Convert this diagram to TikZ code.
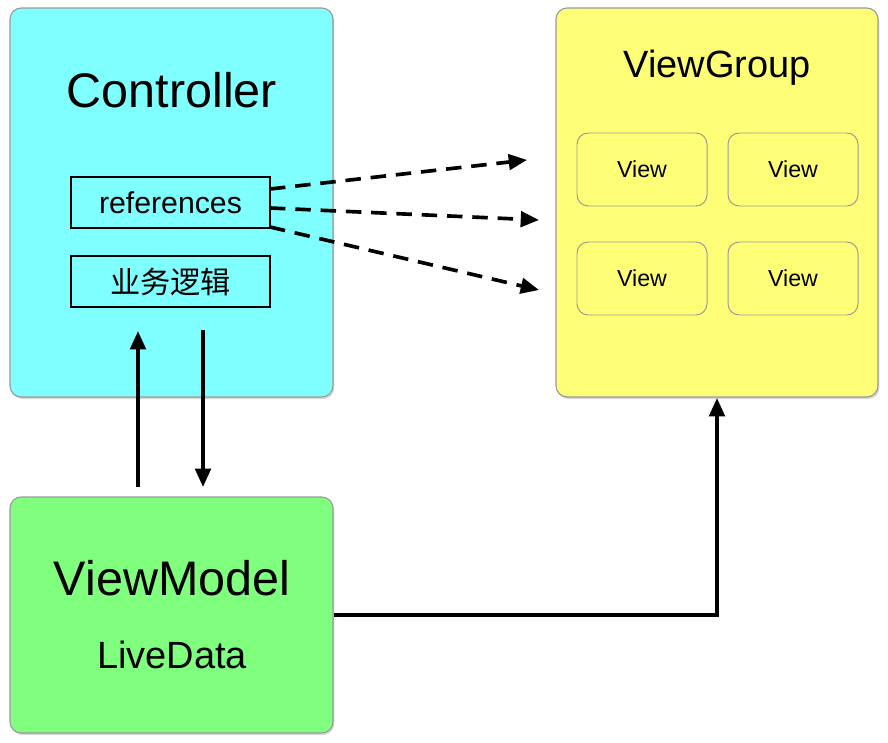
\documentclass[tikz,border=0pt]{standalone}
\usepackage{fontspec}
\setmainfont{Liberation Sans}
\newfontfamily\cjk{Noto Sans CJK SC}
\usetikzlibrary{arrows.meta,shadows}
\definecolor{ccyan}{HTML}{7FFFFF}
\definecolor{cyel}{HTML}{FFFF77}
\definecolor{cgrn}{HTML}{80FF7F}
\begin{document}
\begin{tikzpicture}[x=0.025cm,y=-0.025cm,
  big/.style={draw=gray!80,rounded corners=8pt,line width=0.8pt,drop shadow={shadow xshift=1pt,shadow yshift=-1.5pt,opacity=0.3}},
  small/.style={draw=black,line width=0.8pt,minimum width=199*0.025cm,minimum height=51*0.025cm,inner sep=0},
  view/.style={draw=gray!80,line width=0.7pt,rounded corners=8pt,minimum width=130*0.025cm,minimum height=73*0.025cm,font=\fontsize{16.5}{18}\selectfont},
  arr/.style={line width=2.6pt,-{Triangle[length=13pt,width=11pt]}},
  darr/.style={arr,dash pattern=on 11pt off 7pt}]
\useasboundingbox (0,0) rectangle (888,743);
\fill[white] (0,0) rectangle (888,743);
\node[big,fill=ccyan,minimum width=323*0.025cm,minimum height=389*0.025cm] (ctrl) at (171.5,202.5) {};
\node[big,fill=cyel,minimum width=322*0.025cm,minimum height=389*0.025cm] (vg) at (717,202.5) {};
\node[big,fill=cgrn,minimum width=323*0.025cm,minimum height=236*0.025cm] (vm) at (171.5,615) {};
\node[font=\fontsize{34.5}{38}\selectfont] (ctrlt) at (172,90) {Controller};
\node[font=\fontsize{27}{31}\selectfont] (vgt) at (717,68) {ViewGroup};
\node[font=\fontsize{34.5}{38}\selectfont] (vmt) at (172,578) {ViewModel};
\node[font=\fontsize{27}{31}\selectfont] (ld) at (172,655) {LiveData};
\node[small,font=\fontsize{21.5}{23}\selectfont] (ref) at (170.5,202.5) {references};
\node[small,font=\cjk\fontsize{21.5}{23}\selectfont] (biz) at (170.5,281.5) {业务逻辑};
\node[view] (v1) at (642,169.5) {View};
\node[view] (v2) at (793,169.5) {View};
\node[view] (v3) at (642,278.5) {View};
\node[view] (v4) at (793,278.5) {View};
\coordinate (d1) at (527,160);
\coordinate (d2) at (539,220);
\coordinate (d3) at (539,290);
\draw[darr] (270,189) -- (d1);
\draw[darr] (270,208) -- (d2);
\draw[darr] (270,227) -- (d3);
\coordinate (ua) at (138,487);
\coordinate (ub) at (138,331);
\coordinate (da) at (203,330);
\coordinate (db) at (203,487);
\draw[arr] (ua) -- (ub);
\draw[arr] (da) -- (db);
\coordinate (e1) at (717,615);
\draw[arr] (vm.east |- e1) -- (e1) -- (717,398);
\end{tikzpicture}
\end{document}
